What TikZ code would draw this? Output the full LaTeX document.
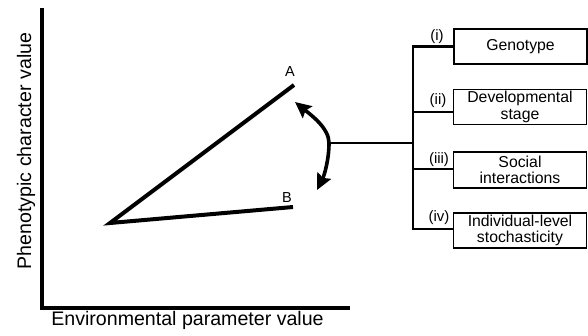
\documentclass[tikz,border=0pt]{standalone}
\usepackage{fontspec}
\setmainfont{Liberation Sans}
\usetikzlibrary{arrows.meta}
\begin{document}
\begin{tikzpicture}[x=1pt,y=-1pt,
  axis/.style={line width=3.8pt,line cap=rect},
  trend/.style={line width=4pt},
  wire/.style={line width=2.6pt},
  swing/.style={line width=3.6pt,{Stealth[length=16pt,width=15pt,inset=2.5pt]}-{Stealth[length=16pt,width=15pt,inset=2.5pt]}},
  factor/.style={draw,line width=1.8pt,minimum width=133pt,minimum height=35pt,
    inner sep=0pt,align=center,font=\fontsize{15.8}{16.5}\selectfont},
  tag/.style={font=\fontsize{15}{16}\selectfont,inner sep=0pt},
  curvelabel/.style={font=\fontsize{14.5}{15}\selectfont,inner sep=0pt,anchor=base},
  axislabel/.style={font=\fontsize{19.6}{22}\selectfont,inner sep=0pt,anchor=base}]
\useasboundingbox (0,0) rectangle (588,335);

% axes
\coordinate (ytop) at (42,10);
\coordinate (origin) at (42,308);
\coordinate (xend) at (348,308);
\draw[axis] (ytop) -- (origin) -- (xend);
\node[axislabel] (xlabel) at (187.5,325) {Environmental parameter value};
\node[axislabel,rotate=90] (ylabel) at (31,151) {Phenotypic character value};

% reaction norms
\coordinate (start) at (110,223);
\coordinate (endA) at (294,85);
\coordinate (endB) at (293,207);
\draw[trend] (endA) -- (start) -- (endB);
\node[curvelabel] (labA) at (290,76) {A};
\node[curvelabel] (labB) at (287,202) {B};

% double-headed arrow between the two norms
\coordinate (tipA) at (295,102);
\coordinate (bend) at (329,143);
\coordinate (tipB) at (317,190);
\draw[swing] (tipA) .. controls (311,115) and (329,128) .. (bend)
  .. controls (329,160) and (324,176) .. (tipB);

% factor boxes
\node[factor] (g1) at (520.5,46.5) {Genotype};
\node[factor] (g2) at (520,107) {Developmental\\stage};
\node[factor,minimum height=36pt] (g3) at (520,170) {Social\\interactions};
\node[factor] (g4) at (520,230.5) {Individual-level\\stochasticity};

% connector tree
\coordinate (bus) at (413,143);
\coordinate (b1) at (413,46.5);
\coordinate (b2) at (413,112);
\coordinate (b3) at (413,169);
\coordinate (b4) at (413,229);
\draw[wire] (bend) -- (bus);
\draw[wire] (b1 -| g1.west) -- (b1) -- (b4) -- (b4 -| g4.west);
\draw[wire] (b2) -- (b2 -| g2.west);
\draw[wire] (b3) -- (b3 -| g3.west);

\node[tag] (t1) at (437,37) {(i)};
\node[tag] (t2) at (438,101) {(ii)};
\node[tag] (t3) at (439,160) {(iii)};
\node[tag] (t4) at (439,218) {(iv)};
\end{tikzpicture}
\end{document}
